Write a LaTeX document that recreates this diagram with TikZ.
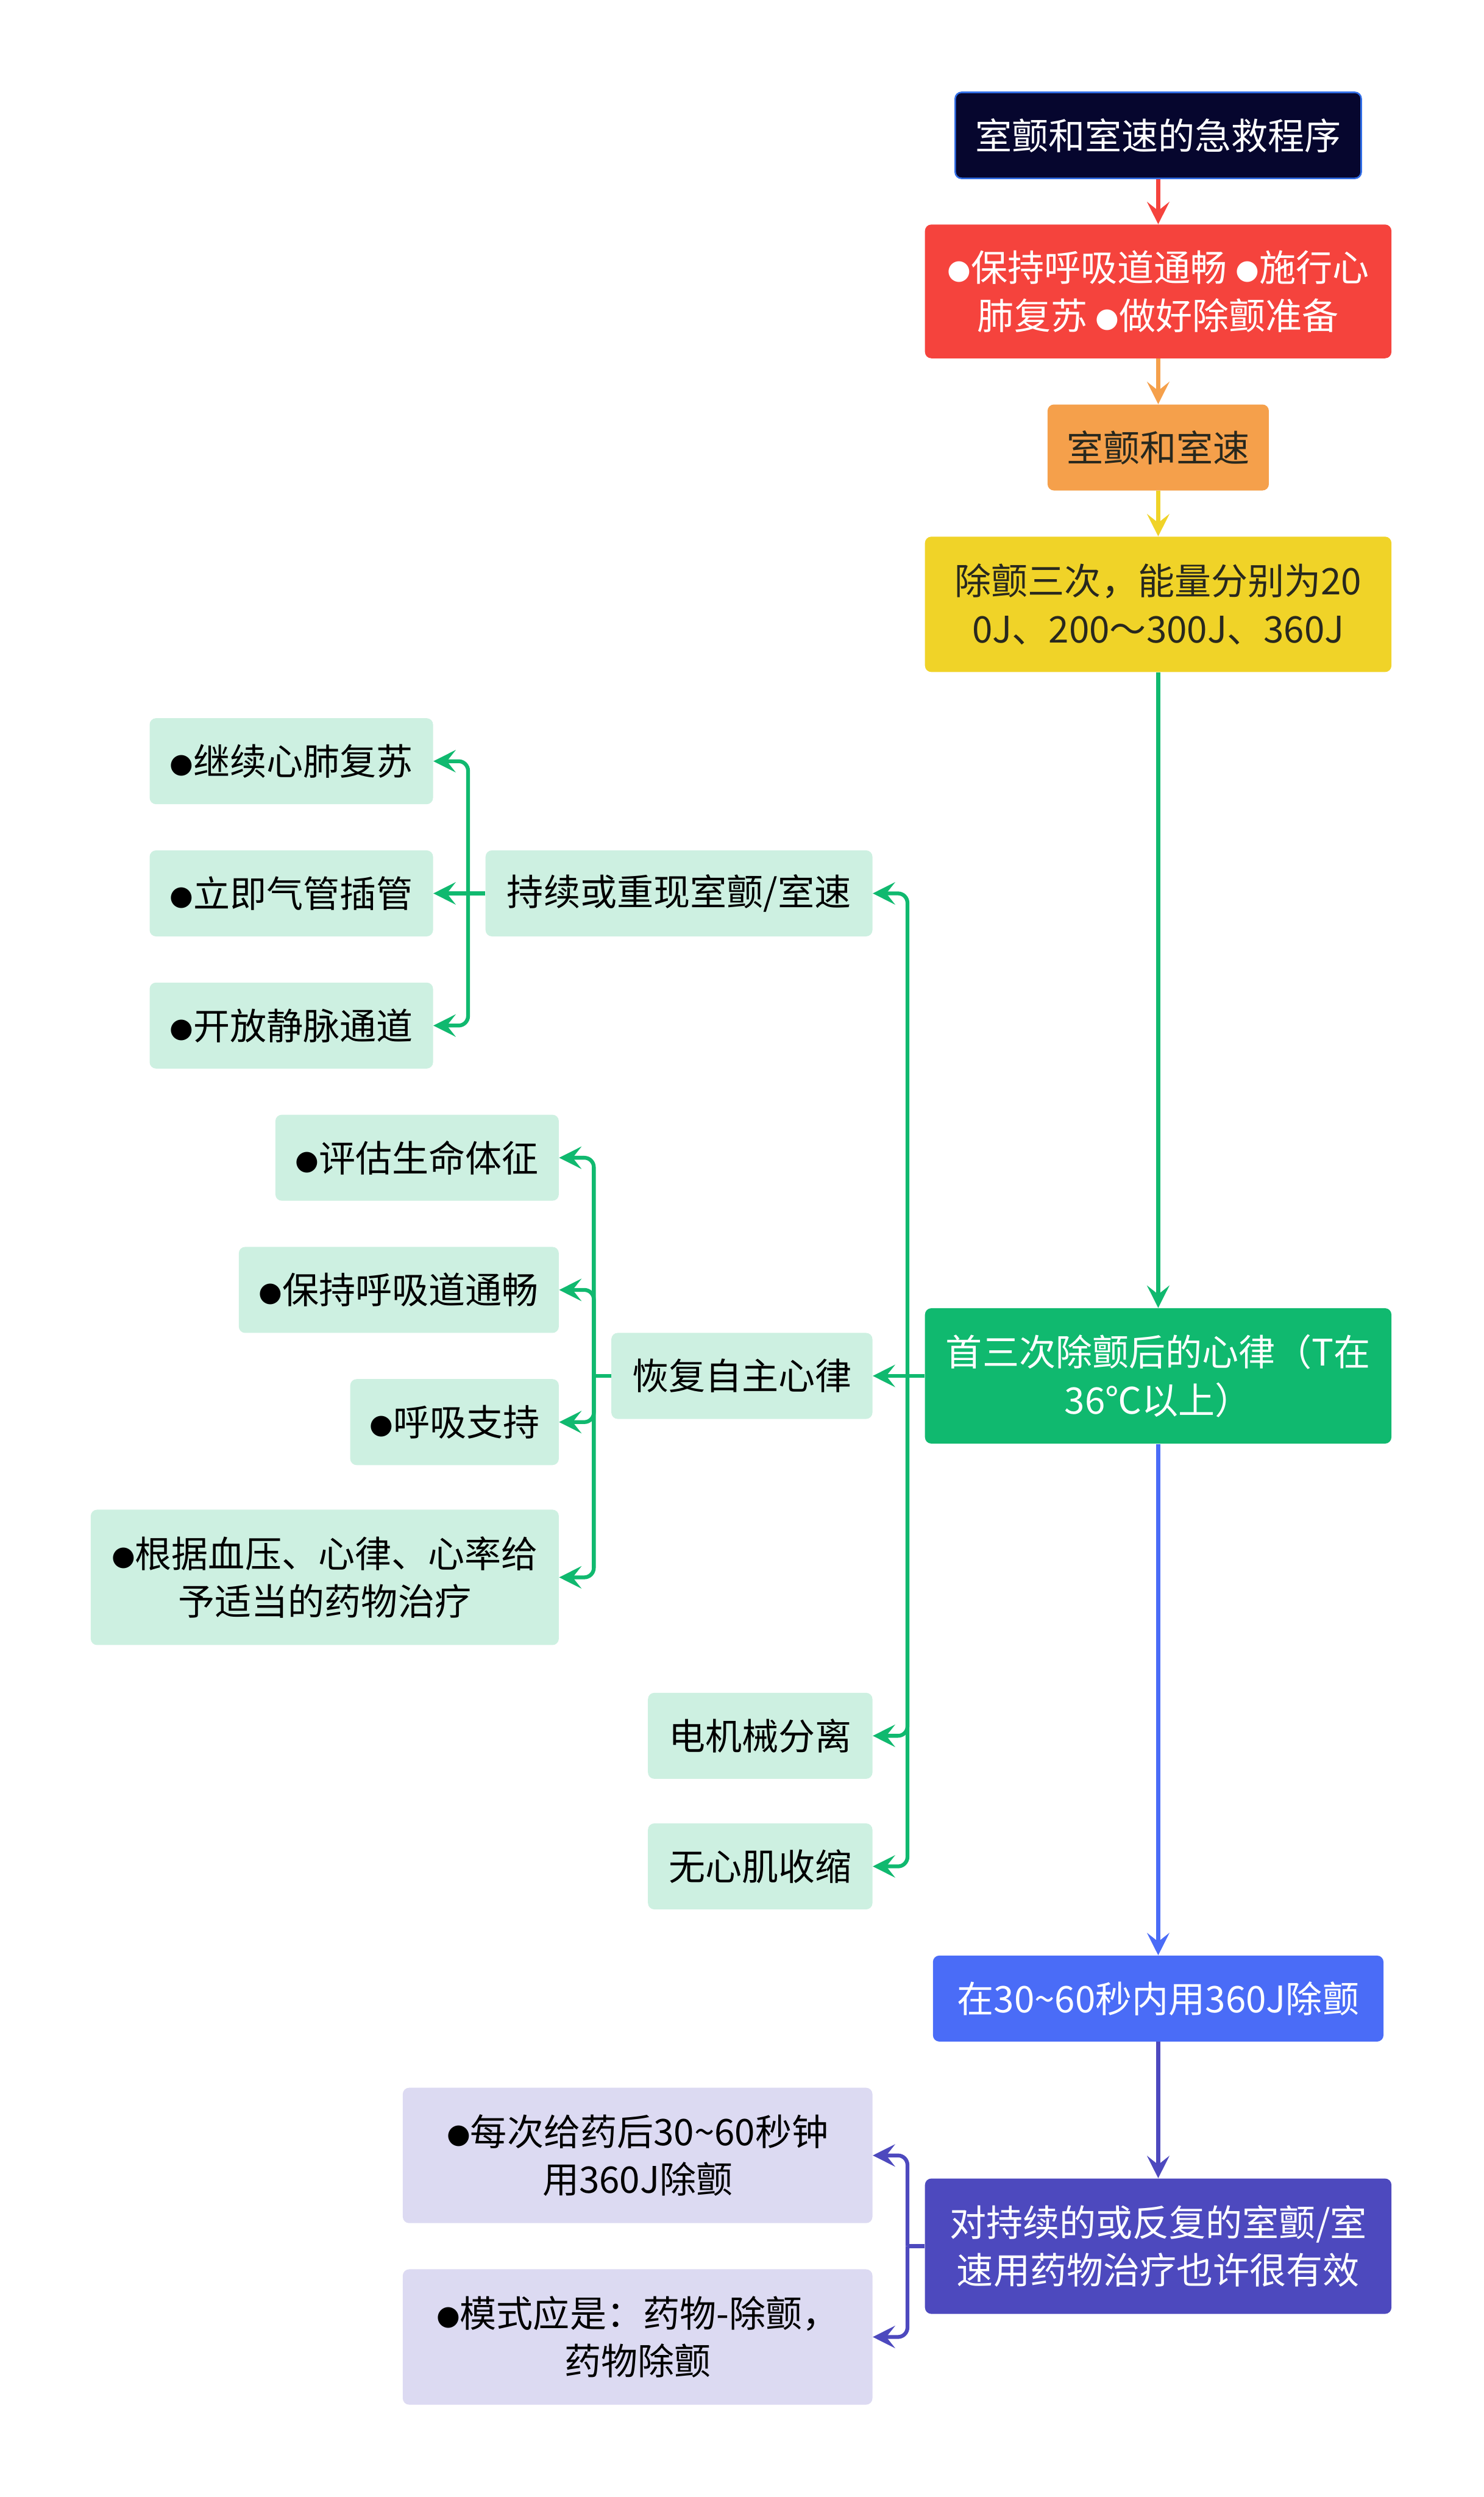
\documentclass[tikz,border=0pt]{standalone}
\usepackage{fontspec}
\setmainfont{Noto Sans CJK SC}
\newfontfamily\dvs{DejaVu Sans}
\usetikzlibrary{arrows.meta}
\definecolor{navy}{RGB}{6,6,46}
\definecolor{navyborder}{RGB}{50,110,230}
\definecolor{cred}{RGB}{245,67,61}
\definecolor{corange}{RGB}{245,160,75}
\definecolor{cyellow}{RGB}{240,211,40}
\definecolor{cgreen}{RGB}{16,185,111}
\definecolor{lgreen}{RGB}{205,240,225}
\definecolor{cblue}{RGB}{74,108,247}
\definecolor{cpurple}{RGB}{77,73,190}
\definecolor{lpurple}{RGB}{220,218,242}
\definecolor{dtext}{RGB}{40,40,30}
\newcommand{\bu}{\raisebox{1.5pt}{\dvs\fontsize{17}{17}\selectfont ●}}
\newcommand{\tl}{\textasciitilde}
\begin{document}
\begin{tikzpicture}[x=1pt,y=-1pt,
  font=\fontsize{23}{30}\selectfont,
  box/.style={rounded corners=4pt, minimum height=54pt, inner sep=0pt, align=center},
  lg/.style={box, fill=lgreen, text=black},
  lp/.style={box, fill=lpurple, text=black},
  arr/.style={-{Stealth[length=14pt,width=14pt,inset=5.5pt]}, line width=2.4pt},
  gconn/.style={arr, draw=cgreen, rounded corners=6pt},
  pconn/.style={arr, draw=cpurple, rounded corners=6pt},
  trunk/.style={line width=2.4pt}]
\useasboundingbox (0,0) rectangle (932,1568);
\fill[white] (0,0) rectangle (932,1568);

% main column
\node[box, fill=navy, draw=navyborder, line width=1pt, text=white, minimum width=255pt] (title) at (727.5,85) {室颤和室速的急救程序};
\node[box, fill=cred, text=white, minimum width=293pt, minimum height=84pt] (red) at (727.5,183) {\bu 保持呼吸道通畅 \bu 施行心\\肺复苏 \bu 做好除颤准备};
\node[box, fill=corange, text=dtext, minimum width=139pt] (orange) at (727.5,281) {室颤和室速};
\node[box, fill=cyellow, text=dtext, minimum width=293pt, minimum height=85pt] (yellow) at (727.5,379.5) {除颤三次，能量分别为20\\0J、200～300J、360J};
\node[box, fill=cgreen, text=white, minimum width=293pt, minimum height=85pt] (green) at (727.5,864) {首三次除颤后的心律（T在\\36℃以上）};
\node[box, fill=cblue, text=white, minimum width=283pt] (blue) at (727.5,1255) {在30\tl 60秒内用360J除颤};
\node[box, fill=cpurple, text=white, minimum width=293pt, minimum height=85pt] (purple) at (727.5,1410.5) {对持续的或反复的室颤/室\\速用药物治疗也许很有效};

\draw[arr, draw=cred] (title) -- (red);
\draw[arr, draw=corange] (red) -- (orange);
\draw[arr, draw=cyellow] (orange) -- (yellow);
\draw[arr, draw=cgreen] (yellow) -- (green);
\draw[arr, draw=cblue] (green) -- (blue);
\draw[arr, draw=cpurple] (blue) -- (purple);

% green level 1
\node[lg, minimum width=243pt] (persist) at (426.5,561) {持续或重现室颤/室速};
\node[lg, minimum width=164pt] (restore) at (466,864) {恢复自主心律};
\node[lg, minimum width=141pt] (emd) at (477.5,1090) {电机械分离};
\node[lg, minimum width=141pt] (asys) at (477.5,1172) {无心肌收缩};

\coordinate (gb) at (570,864);
\draw[trunk, draw=cgreen] (green.west) -- (gb);
\draw[gconn] (gb) |- (persist.east);
\draw[gconn] (gb) -- (restore.east);
\draw[gconn] (gb) |- (emd.east);
\draw[gconn] (gb) |- (asys.east);

% persist children
\node[lg, minimum width=178pt] (p1) at (183,478) {\bu 继续心肺复苏};
\node[lg, minimum width=178pt] (p2) at (183,561) {\bu 立即气管插管};
\node[lg, minimum width=178pt] (p3) at (183,644) {\bu 开放静脉通道};
\coordinate (pb) at (294,561);
\draw[trunk, draw=cgreen] (persist.west) -- (pb);
\draw[gconn] (pb) |- (p1.east);
\draw[gconn] (pb) -- (p2.east);
\draw[gconn] (pb) |- (p3.east);

% restore children
\node[lg, minimum width=178pt] (r1) at (262,727) {\bu 评估生命体征};
\node[lg, minimum width=201pt] (r2) at (250.5,810) {\bu 保持呼吸道通畅};
\node[lg, minimum width=131pt] (r3) at (285.5,893) {\bu 呼吸支持};
\node[lg, minimum width=294pt, minimum height=85pt] (r4) at (204,990.5) {\bu 根据血压、心律、心率给\\予适当的药物治疗};
\coordinate (rb) at (373,864);
\draw[trunk, draw=cgreen] (restore.west) -- (rb);
\draw[gconn] (rb) |- (r1.east);
\draw[gconn] (rb) |- (r2.east);
\draw[gconn] (rb) |- (r3.east);
\draw[gconn] (rb) |- (r4.east);

% purple children
\node[lp, minimum width=295pt, minimum height=85pt] (q1) at (400.5,1353.5) {\bu 每次给药后30\tl 60秒钟\\用360J除颤};
\node[lp, minimum width=295pt, minimum height=85pt] (q2) at (400.5,1467.5) {\bu 模式应是：药物-除颤，\\药物除颤};
\coordinate (qb) at (570,1410.5);
\draw[trunk, draw=cpurple] (purple.west) -- (qb);
\draw[pconn] (qb) |- (q1.east);
\draw[pconn] (qb) |- (q2.east);
\end{tikzpicture}
\end{document}
